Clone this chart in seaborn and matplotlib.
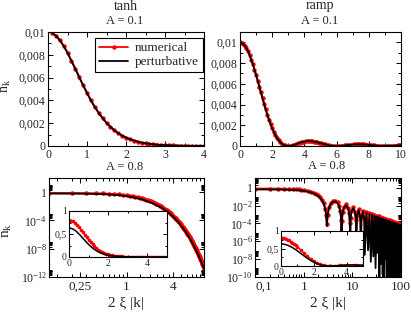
import numpy as np
import seaborn as sns
import matplotlib.pyplot as plt
from matplotlib.ticker import FixedLocator, MultipleLocator, NullFormatter, LogLocator

sns.set_style("ticks")
plt.rcParams['font.family'] = ['Liberation Serif', 'DejaVu Serif']
plt.rcParams['mathtext.fontset'] = 'custom'
plt.rcParams['mathtext.rm'] = 'Liberation Serif'
plt.rcParams['mathtext.it'] = 'Liberation Serif:italic'

# %% Data

# A = 0.1, tanh profile (numerical and perturbative coincide)
tanh_weak_k = np.round(0.1 * np.arange(1, 41), 1)
tanh_weak_nk = [0.00992, 0.00968, 0.00929, 0.00879, 0.00818, 0.00747, 0.00678, 0.00604, 0.00533, 0.00466,
                0.00400, 0.00343, 0.00290, 0.00244, 0.00203, 0.00168, 0.00138, 0.00113, 0.00091, 0.00074,
                0.00060, 0.00048, 0.00038, 0.00030, 0.00024, 0.00019, 0.00015, 0.00012, 0.000092, 0.000072,
                0.000057, 0.000044, 0.000035, 0.000027, 0.000021, 0.000016, 0.000013, 0.00001, 0.000008, 0.000006]

# A = 0.1, ramp profile
ramp_weak_k = np.round(0.1 * np.arange(0, 101), 1)
ramp_weak_nk = [.01, .009963, .00985, .009676, .009426, .009119, .008752, .008332, .007868, .007368,
                .006839, .006290, .005729, .005163, .004601, .004053, .003523, .003019, .002546, .002108,
                .001710, .001353, .001041, .000772, .000547, .000365, .000223, .000119, .0000503, .0000119,
                0, .0000104, .0000385, .00008, .0001305, .000186, .000243, .000298, .000349, .000392,
                .000427, .000453, .000468, .000472, .000466, .000450, .000426, .000395, .000358, .000317,
                .000274, .000229, .000186, .000145, .000108, .0000754, .0000481, .0000268, .0000117, .0000029,
                0, .0000027, .0000103, .0000219, .0000368, .000054, .0000723, .000091, .000109, .000125,
                .00014, .000151, .000159, .000164, .000165, .000162, .000156, .000147, .000136, .000122,
                .000107, .000091, .0000749, .0000593, .0000446, .0000316, .0000204, .0000115, .000005, .0000013,
                0, .0000012, .0000047, .0000101, .000017, .0000253, .0000342, .0000434, .0000524, .0000609, .0000684]

# A = 0.8, tanh profile
tanh_num_k = np.round(0.1 * np.arange(0, 101), 1)
tanh_num_nk = [.800, .7934, .7744, .7432, .7032, .6544, .5976, .5422, .4835, .4261,
               .3728, .3200, .2744, .2323, .1956, .1625, .1344, .1105, .0902, .0732,
               .0592, .0476, .0382, .0305, .0242, .0192, .0151, .0119, .00937, .00734,
               .00574, .00447, .00348, .00270, .00210, .00162, .00126, .000968, .000746, .000574,
               4.41e-4, 3.38e-4, 2.59e-4, 1.98e-4, 1.52e-4, 1.16e-4, 8.86e-5, 6.75e-5, 5.14e-5, 3.91e-5,
               2.98e-5, 2.26e-5, 1.72e-5, 1.30e-5, 9.92e-6, 7.50e-6, 5.68e-6, 4.30e-6, 3.25e-6, 2.46e-6,
               1.86e-6, 1.40e-6, 1.06e-6, 7.97e-7, 6.01e-7, 4.53e-7, 3.41e-7, 2.57e-7, 1.93e-7, 1.45e-7,
               1.09e-7, 8.20e-8, 6.16e-8, 4.62e-8, 3.47e-8, 2.61e-8, 1.95e-8, 1.46e-8, 1.10e-8, 8.23e-9,
               6.17e-9, 4.62e-9, 3.46e-9, 2.58e-9, 1.94e-9, 1.45e-9, 1.08e-9, 8.09e-10, 6.05e-10, 4.52e-10,
               3.38e-10, 2.52e-10, 1.88e-10, 1.40e-10, 1.05e-10, 7.81e-11, 5.82e-11, 4.34e-11, 3.24e-11, 2.42e-11,
               1.80e-11]
tanh_pert_k = [0, 0.1, 0.2, 0.3, 0.4, 0.5, 0.6, 0.8, 1.0, 1.2, 1.4, 1.6, 1.8, 2.0, 2.25, 2.5, 2.75, 3.0,
               3.5, 4.0, 4.5, 5.0, 5.5, 6.0, 6.5, 7.0, 7.5, 8.0, 8.5, 9.0, 9.5, 10.0]
tanh_pert_nk = [.63, .624, .608, .581, .546, .504, .459, .365, .271, .196, .1355, .0904, .0589, .0375, .0220,
                .0125, .0075, .0043, 1.22e-3, 3.3e-4, 8.7e-5, 2.2e-5, 5.6e-6, 1.4e-6, 3.4e-7,
                8.2e-8, 1.96e-8, 4.6e-9, 1.09e-9, 2.5e-10, 5.9e-11, 1.35e-11]

# A = 0.8, ramp profile
ramp_k = [0, 0.1, 0.2, 0.3, 0.4, 0.5, 0.6, 0.7, 0.8, 0.9, 1.0, 1.2, 1.4, 1.6, 1.8, 2.0, 2.2, 2.4, 2.6, 2.8, 2.9,
          3.0, 3.1, 3.3, 3.6, 4.0, 4.5, 5.0, 5.4, 5.7, 5.9,
          6.0, 6.1, 6.3, 6.7, 7.5, 8.2, 8.6, 8.9,
          9.0, 9.2, 9.6, 10.5, 11.4, 11.8,
          12.0, 12.4, 13.5, 14.6,
          15.0, 15.4, 16.5, 17.6,
          18, 19.5, 21, 22.5, 24, 25.5, 27, 28.5, 30, 31.5, 33, 34.5, 36, 37.5, 39, 40.5, 42, 43.5,
          45, 46.5, 48, 49.5, 51, 52.5, 54, 55.5, 57, 58.5, 60, 61.5, 63, 64.5, 66, 67.5, 69, 70.5,
          72, 73.5, 75, 76.5, 78, 79.5, 81, 82.5, 84, 85.5, 87, 88.5, 90, 91.5, 93, 94.5, 96, 97.5, 99, 100]
ramp_num_nk = [0.8, .797, .788, .774, .754, .730, .700, .667, .629, .589, .547, .458, .368, .282, .204, .137,
               .0833, .0438, .0178, .00402, .00095,
               8e-5, 8.3e-4, .0064, .0194, .0342, .0360, .0219, .00864, .00214, 2.29e-4,
               3e-6, 2.1e-4, .00176, .00728, .0130, .00599, .00163, 1.0e-4,
               1e-6, 3.8e-4, .00274, .00662, .00194, 2.3e-4,
               1.4e-7, 7.8e-4, .00400, 5.7e-4,
               4e-7, 5.1e-4, .00268, 3.9e-4,
               5e-6, .00192, 2e-5, .00144, 3e-7, .00112, 4e-6, 8.98e-4, 1e-6, 7.35e-4, 2e-5, 6.13e-4,
               5e-7, 5.18e-4, 2e-8, 4.45e-4, 8e-6, 3.86e-4, 3e-7, 3.38e-4, 2e-6, 2.98e-4, 1e-5, 2.65e-4,
               2e-8, 2.37e-4, 4e-10, 2.13e-4, 3e-6, 1.93e-4, 5e-7, 1.75e-4, 1e-5, 1.60e-4, 2e-7, 1.46e-4,
               2e-9, 1.35e-4, 8e-6, 1.25e-4, 1e-6, 1.15e-4, 3e-5, 1.07e-4, 1e-8, 1.0e-4, 3e-6, 9.3e-5,
               4e-7, 8.7e-5, 2e-5, 8.2e-5, 6e-10, 7.7e-5, 1e-6, 5.5e-5]
ramp_pert_nk = [0.63, .628, .621, .610, .594, .574, .551, .525, .496, .464, .431, .361, .290, .222, .160, .108,
                .0656, .0345, .0140, .00317, .00075,
                5e-5, 6.5e-4, .00504, .0153, .0269, .0284, .0173, .0068, .00169, 1.8e-4,
                2e-6, 1.7e-4, .00138, .00573, .0102, .00472, .00129, 7.9e-5,
                5e-7, 3.0e-4, .00215, .00521, .00153, 1.8e-4,
                8e-8, 6.2e-4, .00315, 4.5e-4,
                2e-7, 4.0e-4, .00211, 3.1e-4,
                3e-8, .00151, 1e-7, .00113, 5e-9, 8.83e-4, 2e-8, 7.07e-4, 1e-9, 5.79e-4, 5e-8, 4.83e-4,
                1e-11, 4.08e-4, 3e-9, 3.50e-4, 2e-10, 3.04e-4, 1e-11, 2.66e-4, 1e-8, 2.34e-4, 1e-11, 2.09e-4,
                5e-10, 1.86e-4, 1e-11, 1.68e-4, 3e-9, 1.52e-4, 1e-11, 1.38e-4, 1e-10, 1.26e-4, 1e-11, 1.15e-4,
                5e-9, 1.06e-4, 1e-11, 9.8e-5, 1e-11, 9.1e-5, 2e-10, 8.4e-5, 1e-11, 7.9e-5, 1e-11, 7.3e-5,
                1e-9, 6.9e-5, 1e-11, 6.4e-5, 1e-11, 6.0e-5, 1e-11, 4.3e-5]

# %% Figure

W, H = 411, 315
fig = plt.figure(figsize=(W / 100, H / 100), dpi=100)


def box(l, t, r, b):
    return [l / W, 1 - b / H, (r - l) / W, (b - t) / H]


def style(ax, size=8.5, major=3.8, minor=2.0):
    ax.tick_params(which='both', direction='in', top=True, right=True, width=0.7,
                   color='black', labelsize=size, pad=2)
    ax.tick_params(which='major', length=major)
    ax.tick_params(which='minor', length=minor)
    for s in ax.spines.values():
        s.set_linewidth(0.8)
        s.set_color('black')


def draw(ax, k_num, n_num, k_pert, n_pert, ms=3.2, lw=1.3, label=True):
    sns.lineplot(x=k_num, y=n_num, ax=ax, color='red', marker='o', markersize=ms,
                 markeredgewidth=0, linewidth=lw, estimator=None, sort=False,
                 label='numerical' if label else None)
    sns.lineplot(x=k_pert, y=n_pert, ax=ax, color='black', linewidth=lw,
                 estimator=None, sort=False, label='perturbative' if label else None)


def comma(v):
    return ('%g' % v).replace('.', ',')


ax_tl = fig.add_axes(box(48, 32, 204, 146))
ax_tr = fig.add_axes(box(240, 32, 401, 146))
ax_bl = fig.add_axes(box(49, 178, 204, 277))
ax_br = fig.add_axes(box(255, 178, 401, 277))

# top row
draw(ax_tl, tanh_weak_k, tanh_weak_nk, tanh_weak_k, tanh_weak_nk)
draw(ax_tr, ramp_weak_k, ramp_weak_nk, ramp_weak_k, ramp_weak_nk, label=False)

for ax, xmax, xstep, ymax in [(ax_tl, 4, 1, 0.01), (ax_tr, 10, 2, 0.011)]:
    ax.set_xlim(0, xmax)
    ax.set_ylim(0, ymax)
    ax.set_xticks(np.arange(0, xmax + 0.1, xstep))
    ax.xaxis.set_minor_locator(MultipleLocator(xstep / 2))
    yt = [0, 0.002, 0.004, 0.006, 0.008, 0.01]
    ax.set_yticks(yt, [comma(v) for v in yt])
    ax.yaxis.set_minor_locator(MultipleLocator(0.001))
    ax.set_xlabel('')
    ax.set_ylabel('')
    style(ax)

leg = ax_tl.legend(loc='upper right', bbox_to_anchor=(203 / W, 1 - 38 / H),
                   bbox_transform=fig.transFigure, borderaxespad=0, fontsize=9.5,
                   frameon=True, fancybox=False, edgecolor='black', framealpha=1,
                   handlelength=2.2, handletextpad=0.5, borderpad=0.3, labelspacing=0.15)
leg.get_frame().set_linewidth(0.8)

# bottom row, log axes
for ax in (ax_bl, ax_br):
    ax.set_xscale('log')
    ax.set_yscale('log')

draw(ax_bl, tanh_num_k[1:], tanh_num_nk[1:], tanh_pert_k[1:], tanh_pert_nk[1:], label=False)
draw(ax_br, ramp_k[1:], ramp_num_nk[1:], ramp_k[1:], ramp_pert_nk[1:], label=False)

ax_bl.set_xlim(0.1, 10)
ax_bl.set_ylim(1e-12, 1e2)
ax_bl.xaxis.set_major_locator(FixedLocator([0.25, 1, 4]))
ax_bl.set_xticklabels(['0,25', '1', '4'])
ax_bl.xaxis.set_minor_locator(FixedLocator([0.125, 0.2, 0.3, 0.4, 0.5, 0.6, 0.7, 0.8, 0.9,
                                            1.5, 2, 2.5, 3, 3.5, 5, 6, 7, 8, 9]))
ax_bl.yaxis.set_major_locator(FixedLocator([1e-12, 1e-8, 1e-4, 1]))
ax_bl.set_yticklabels(['$10^{-12}$', '$10^{-8}$', '$10^{-4}$', '1'])
ax_bl.yaxis.set_minor_locator(FixedLocator([k * 10.0 ** m for m in (-12, -8, -4, 0) for k in range(2, 10)]))

ax_br.set_xlim(0.1, 100)
ax_br.set_ylim(1e-10, 12)
ax_br.xaxis.set_major_locator(FixedLocator([0.1, 1, 10, 100]))
ax_br.set_xticklabels(['0,1', '1', '10', '100'])
ax_br.get_xticklabels()[0].set_horizontalalignment('left')
ax_br.xaxis.set_minor_locator(LogLocator(base=10, subs=np.arange(2, 10)))
ax_br.yaxis.set_major_locator(FixedLocator([1e-10, 1e-8, 1e-6, 1e-4, 1e-2, 1]))
ax_br.set_yticklabels(['$10^{-10}$', '$10^{-8}$', '$10^{-6}$', '$10^{-4}$', '$10^{-2}$', '1'])
ax_br.yaxis.set_minor_locator(FixedLocator([k * 10.0 ** m for m in (-10, -8, -6, -4, -2, 0) for k in range(2, 10)]))

for ax in (ax_bl, ax_br):
    ax.xaxis.set_minor_formatter(NullFormatter())
    ax.yaxis.set_minor_formatter(NullFormatter())
    ax.set_xlabel('')
    ax.set_ylabel('')
    style(ax)
    ax.tick_params(axis='x', labelsize=9.5, pad=3)
    ax.tick_params(axis='y', labelsize=8.5, pad=1.5)

# insets, linear axes
in_bl = fig.add_axes(box(69, 211, 167, 257))
in_br = fig.add_axes(box(281, 231, 363, 266))
tanh_pert_in = [n for k, n in zip(tanh_pert_k, tanh_pert_nk) if k <= 5]
ramp_in = [i for i, k in enumerate(ramp_k) if k <= 5]
draw(in_bl, tanh_num_k[:51], tanh_num_nk[:51], tanh_pert_k[:len(tanh_pert_in)], tanh_pert_in,
     ms=2.6, lw=1.1, label=False)
draw(in_br, [ramp_k[i] for i in ramp_in], [ramp_num_nk[i] for i in ramp_in],
     [ramp_k[i] for i in ramp_in], [ramp_pert_nk[i] for i in ramp_in], ms=2.6, lw=1.1, label=False)
for ax in (in_bl, in_br):
    ax.set_xlim(0, 5)
    ax.set_ylim(0, 1)
    ax.set_xticks([0, 2, 4])
    ax.xaxis.set_minor_locator(MultipleLocator(1))
    ax.set_yticks([0, 0.5, 1], ['0', '0,5', '1'])
    ax.yaxis.set_minor_locator(MultipleLocator(0.25))
    ax.set_xlabel('')
    ax.set_ylabel('')
    style(ax, size=7, major=3, minor=1.6)
    ax.tick_params(pad=1.5)


# labels and titles
def ftext(x, y, s, **kw):
    fig.text(x / W, 1 - y / H, s, ha='center', va='center', **kw)


ftext(126, 7, 'tanh', fontsize=10)
ftext(320, 6, 'ramp', fontsize=10)
ftext(125, 21, 'A = 0.1', fontsize=9)
ftext(320, 21, 'A = 0.1', fontsize=9)
ftext(125, 167, 'A = 0.8', fontsize=9)
ftext(327, 166, 'A = 0.8', fontsize=9)
ftext(126, 303, '2 ξ |k|', fontsize=11)
ftext(328, 303, '2 ξ |k|', fontsize=11)
ftext(6, 86, r'$\mathregular{n_k}$', fontsize=10, rotation=90)
ftext(7, 230, r'$\mathregular{n_k}$', fontsize=11, rotation=90)

fig.savefig('out.png', dpi=100)
